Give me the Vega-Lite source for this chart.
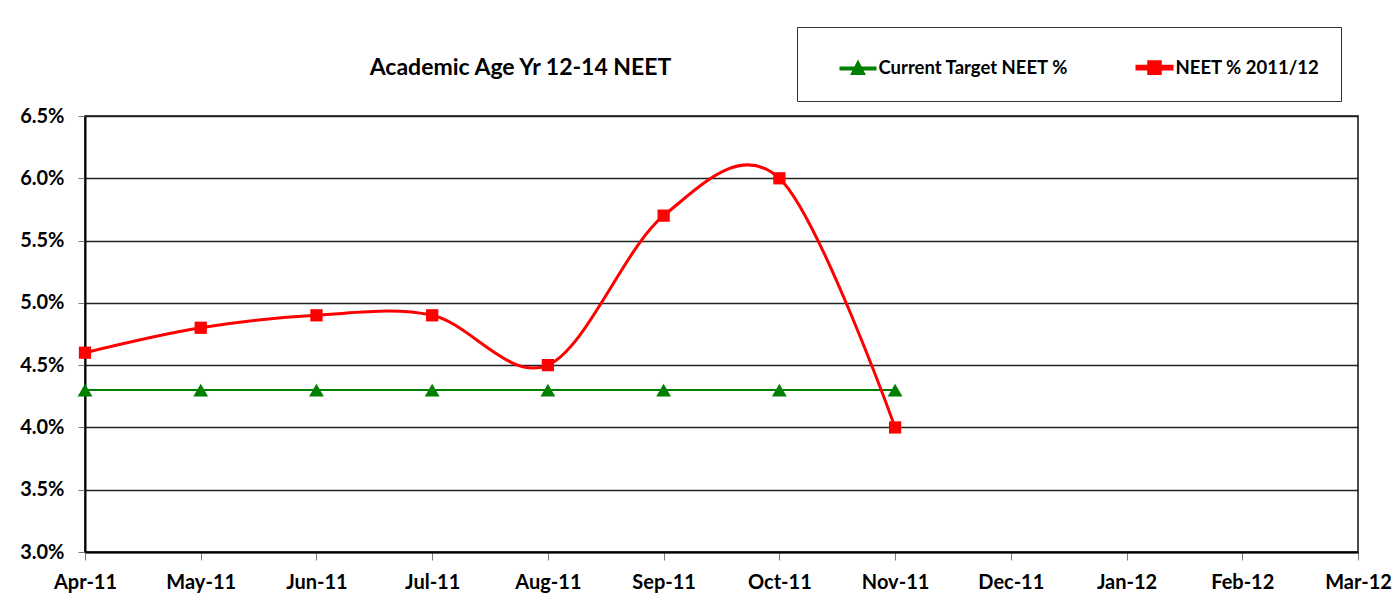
{
  "$schema": "https://vega.github.io/schema/vega-lite/v6.json",
  "width": 1273,
  "height": 436,
  "autosize": {"type": "none"},
  "padding": {"left": 85, "top": 116, "right": 38, "bottom": 50},
  "background": "white",
  "title": {"text": "Academic Age Yr 12-14 NEET", "anchor": "start", "dx": 350, "offset": -53, "fontSize": 23, "font": "Lato", "fontWeight": "bold", "color": "black"},
  "data": {"values": [
    {"month": "Apr-11", "series": "Current Target NEET %", "value": 0.043},
    {"month": "May-11", "series": "Current Target NEET %", "value": 0.043},
    {"month": "Jun-11", "series": "Current Target NEET %", "value": 0.043},
    {"month": "Jul-11", "series": "Current Target NEET %", "value": 0.043},
    {"month": "Aug-11", "series": "Current Target NEET %", "value": 0.043},
    {"month": "Sep-11", "series": "Current Target NEET %", "value": 0.043},
    {"month": "Oct-11", "series": "Current Target NEET %", "value": 0.043},
    {"month": "Nov-11", "series": "Current Target NEET %", "value": 0.043},
    {"month": "Apr-11", "series": "NEET % 2011/12", "value": 0.046},
    {"month": "May-11", "series": "NEET % 2011/12", "value": 0.048},
    {"month": "Jun-11", "series": "NEET % 2011/12", "value": 0.049},
    {"month": "Jul-11", "series": "NEET % 2011/12", "value": 0.049},
    {"month": "Aug-11", "series": "NEET % 2011/12", "value": 0.045},
    {"month": "Sep-11", "series": "NEET % 2011/12", "value": 0.057},
    {"month": "Oct-11", "series": "NEET % 2011/12", "value": 0.060},
    {"month": "Nov-11", "series": "NEET % 2011/12", "value": 0.040}
  ]},
  "config": {
    "view": {"stroke": "#111", "strokeWidth": 1.5},
    "legend": {
      "orient": "none", "legendX": 712, "legendY": -89, "direction": "horizontal",
      "padding": 21.5, "strokeColor": "#333", "fillColor": "white",
      "labelFontSize": 18.5, "labelFont": "Lato", "labelFontWeight": "bold", "labelColor": "black", "labelLimit": 400,
      "symbolSize": 1225, "symbolOpacity": 1, "columnPadding": 62, "labelOffset": 2,
      "titleOrient": "left", "titlePadding": 21, "titleFontSize": 10
    }
  },
  "encoding": {
    "x": {"field": "month", "type": "ordinal", "sort": null,
      "scale": {"type": "point", "padding": 0, "domain": ["Apr-11","May-11","Jun-11","Jul-11","Aug-11","Sep-11","Oct-11","Nov-11","Dec-11","Jan-12","Feb-12","Mar-12"]},
      "axis": {"title": null, "labelAngle": 0, "labelFont": "Lato", "labelFontSize": 20, "labelFontWeight": "bold", "labelColor": "black", "labelPadding": 12, "tickSize": 8, "tickColor": "#777", "domainColor": "#000", "domainWidth": 2, "grid": false}},
    "y": {"field": "value", "type": "quantitative",
      "scale": {"domain": [0.03, 0.065], "nice": false, "zero": false},
      "axis": {"title": null, "values": [0.03,0.035,0.04,0.045,0.05,0.055,0.06,0.065], "format": ".1%", "labelFont": "Lato", "labelFontSize": 20, "labelFontWeight": "bold", "labelColor": "black", "labelPadding": 14, "tickSize": 7, "tickColor": "#777", "domainColor": "#000", "domainWidth": 2, "grid": true, "gridColor": "#222", "gridWidth": 1.3}},
    "color": {"field": "series", "type": "nominal",
      "scale": {"domain": ["Current Target NEET %", "NEET % 2011/12"], "range": ["#008000", "#FF0000"]},
      "legend": {"title": " "}}
  },
  "layer": [
    {"mark": {"type": "line", "interpolate": "cardinal", "tension": 0},
     "encoding": {"strokeWidth": {"field": "series", "type": "nominal", "scale": {"domain": ["Current Target NEET %", "NEET % 2011/12"], "range": [2, 3]}, "legend": null}}},
    {"transform": [{"filter": "datum.series == 'Current Target NEET %'"}],
     "mark": {"type": "point", "filled": true, "opacity": 1, "size": 220, "shape": "triangle-up"}},
    {"transform": [{"filter": "datum.series == 'NEET % 2011/12'"}],
     "mark": {"type": "point", "filled": true, "opacity": 1, "size": 150, "shape": "square"}},
    {"mark": {"type": "point", "filled": true, "opacity": 1, "size": 0},
     "encoding": {"shape": {"field": "series", "type": "nominal",
       "scale": {"domain": ["Current Target NEET %", "NEET % 2011/12"],
         "range": ["M-1,-0.06H1V0.06H-1ZM0,-0.38L0.36,0.32H-0.36Z", "M-1,-0.08H1V0.08H-1ZM-0.33,-0.33H0.33V0.33H-0.33Z"]},
       "legend": {"title": " "}}}}
  ]
}
